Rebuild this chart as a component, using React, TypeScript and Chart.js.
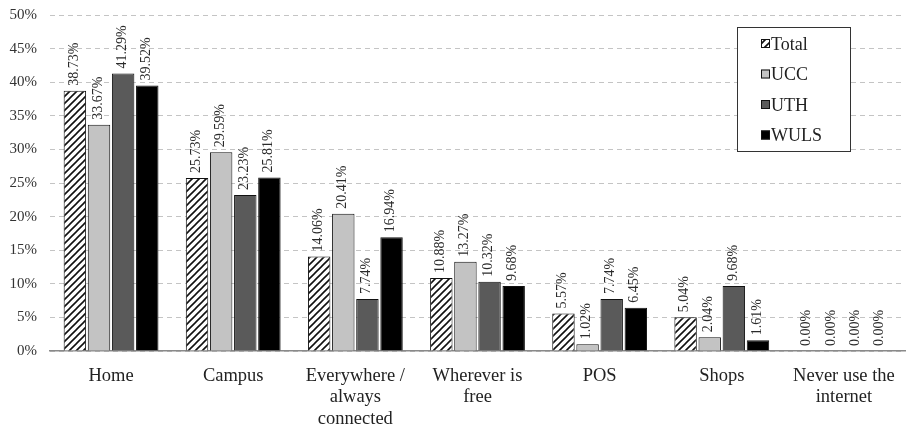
import React, { useEffect, useRef } from "react";
import { Chart, registerables } from "chart.js";
Chart.register(...registerables);

const categories: string[][] = [
  ["Home"],
  ["Campus"],
  ["Everywhere /", "always", "connected"],
  ["Wherever is", "free"],
  ["POS"],
  ["Shops"],
  ["Never use the", "internet"],
];
const seriesNames = ["Total", "UCC", "UTH", "WULS"];
const totalValues = [38.73, 25.73, 14.06, 10.88, 5.57, 5.04, 0];
const uccValues = [33.67, 29.59, 20.41, 13.27, 1.02, 2.04, 0];
const uthValues = [41.29, 23.23, 7.74, 10.32, 7.74, 9.68, 0];
const wulsValues = [39.52, 25.81, 16.94, 9.68, 6.45, 1.61, 0];
const yMin = 0;
const yMax = 50;
const yStep = 5;

const FONT = "'Liberation Serif', 'Times New Roman', serif";

function makeHatch(): CanvasPattern | string {
  const c = document.createElement("canvas");
  c.width = 7;
  c.height = 7;
  const g = c.getContext("2d");
  if (!g) return "#fff";
  g.fillStyle = "#fff";
  g.fillRect(0, 0, 7, 7);
  g.strokeStyle = "#111";
  g.lineWidth = 1.6;
  g.beginPath();
  g.moveTo(-1, 8);
  g.lineTo(8, -1);
  g.moveTo(-1, 1);
  g.lineTo(1, -1);
  g.moveTo(6, 8);
  g.lineTo(8, 6);
  g.stroke();
  const p = g.createPattern(c, "repeat");
  return p || "#fff";
}

const labelPlugin = {
  id: "barLabels",
  afterDatasetsDraw(chart: any) {
    const ctx = chart.ctx;
    ctx.save();
    ctx.font = `14px ${FONT}`;
    ctx.fillStyle = "#2a2a2a";
    ctx.textAlign = "left";
    ctx.textBaseline = "middle";
    chart.data.datasets.forEach((ds: any, di: number) => {
      const meta = chart.getDatasetMeta(di);
      meta.data.forEach((el: any, i: number) => {
        const v = ds.data[i];
        ctx.save();
        ctx.translate(el.x - 1, el.y - 5);
        ctx.rotate(-Math.PI / 2);
        ctx.fillText(v.toFixed(2) + "%", 0, 0);
        ctx.restore();
      });
    });
    ctx.restore();
  },
};

const legendPlugin = {
  id: "boxLegend",
  afterDraw(chart: any) {
    const ctx = chart.ctx;
    const area = chart.chartArea;
    const boxW = 113;
    const boxH = 124;
    const x0 = area.right - 168;
    const y0 = area.top + 12;
    ctx.save();
    ctx.fillStyle = "#fff";
    ctx.fillRect(x0, y0, boxW, boxH);
    ctx.strokeStyle = "#333";
    ctx.lineWidth = 1;
    ctx.strokeRect(x0 + 0.5, y0 + 0.5, boxW, boxH);
    ctx.font = `18px ${FONT}`;
    ctx.textBaseline = "middle";
    ctx.textAlign = "left";
    chart.data.datasets.forEach((ds: any, i: number) => {
      const cy = y0 + 17 + i * 30.5;
      const mx = x0 + 24;
      ctx.fillStyle = ds.backgroundColor;
      ctx.fillRect(mx, cy - 5, 9, 9);
      ctx.strokeStyle = "#111";
      ctx.lineWidth = 1;
      ctx.strokeRect(mx + 0.5, cy - 4.5, 8, 8);
      ctx.fillStyle = "#222";
      ctx.fillText(ds.label, mx + 10, cy + 1);
    });
    ctx.restore();
  },
};

export default function App() {
  const ref = useRef<HTMLCanvasElement>(null);
  useEffect(() => {
    if (!ref.current) return;
    const hatch = makeHatch();
    const fills = [hatch, "#c3c3c3", "#5a5a5a", "#000000"];
    const seriesValues = [totalValues, uccValues, uthValues, wulsValues];
    const chart = new Chart(ref.current, {
      type: "bar",
      data: {
        labels: categories,
        datasets: seriesNames.map((name, i) => ({
          label: name,
          data: seriesValues[i],
          backgroundColor: fills[i] as any,
          borderColor: "#111",
          borderWidth: 1,
          barPercentage: 0.93,
          categoryPercentage: 0.79,
        })),
      },
      options: {
        responsive: false,
        animation: false,
        devicePixelRatio: 1,
        layout: { padding: { top: 15, right: 6, left: 0, bottom: 0 } },
        plugins: {
          legend: { display: false },
          tooltip: { enabled: false },
        },
        scales: {
          x: {
            grid: { display: false, drawTicks: false },
            border: { display: true, color: "#8a8a8a", width: 1.5 },
            ticks: {
              color: "#222",
              font: { family: FONT, size: 18.5, lineHeight: 1.14 },
              padding: 15,
              maxRotation: 0,
              autoSkip: false,
            },
            afterFit(scale: any) {
              scale.height = 78;
              scale.paddingTop = 0;
            },
          },
          y: {
            min: yMin,
            max: yMax,
            grid: { color: "#c4c4c4", lineWidth: 1, drawTicks: false },
            border: { display: false, dash: [5, 4] },
            ticks: {
              stepSize: yStep,
              color: "#333",
              font: { family: FONT, size: 15 },
              padding: 13,
              callback: (v: any) => v + "%",
            },
            afterFit(scale: any) {
              scale.width = 50;
              scale.paddingTop = 0;
              scale.paddingBottom = 0;
            },
          },
        },
      },
      plugins: [labelPlugin, legendPlugin],
    });
    return () => chart.destroy();
  }, []);
  return (
    <div style={{ position: "fixed", left: 0, top: 0, width: 911, height: 429, background: "#fff" }}>
      <canvas ref={ref} width={911} height={429} />
    </div>
  );
}
